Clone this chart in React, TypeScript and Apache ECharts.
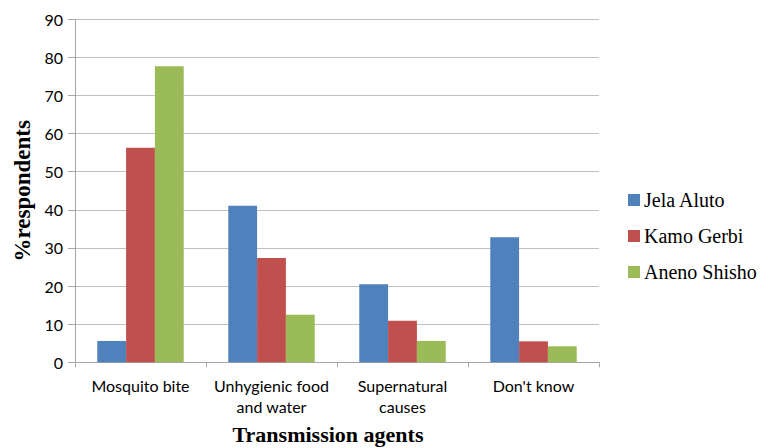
import React, { useEffect, useRef } from "react";
import * as echarts from "echarts";

const categories = ["Mosquito bite", "Unhygienic food\nand water", "Supernatural\ncauses", "Don't know"];
const seriesNames = ["Jela Aluto", "Kamo Gerbi", "Aneno Shisho"];
const jelaAluto = [5.6, 41.1, 20.5, 32.8];
const kamoGerbi = [56.3, 27.4, 10.9, 5.5];
const anenoShisho = [77.7, 12.5, 5.6, 4.2];
const colors = ["#4F81BD", "#C0504D", "#9BBB59"];
const yMin = 0;
const yMax = 90;
const yInterval = 10;

export default function App() {
  const ref = useRef<HTMLDivElement>(null);
  useEffect(() => {
    document.body.style.margin = "0";
    if (!ref.current) return;
    const chart = echarts.init(ref.current, undefined, { renderer: "svg" });
    const values = [jelaAluto, kamoGerbi, anenoShisho];
    chart.setOption({
      animation: false,
      backgroundColor: "#ffffff",
      grid: { left: 75, right: 171, top: 19.3, bottom: 85.7, outerBoundsMode: "none", containLabel: false },
      legend: {
        orient: "vertical",
        left: 628,
        top: 189,
        padding: 0,
        icon: "rect",
        itemWidth: 12,
        itemHeight: 12,
        itemGap: 14,
        data: seriesNames,
        textStyle: {
          fontFamily: "Liberation Serif",
          fontSize: 20,
          lineHeight: 22,
          color: "#000",
          padding: [0, 0, 0, -1],
        },
      },
      xAxis: {
        type: "category",
        data: categories,
        boundaryGap: true,
        name: "Transmission agents",
        nameLocation: "middle",
        nameGap: 61,
        nameTextStyle: {
          fontFamily: "Liberation Serif",
          fontWeight: "bold",
          fontSize: 22,
          lineHeight: 22,
          color: "#000",
          padding: [0, 18, 0, 0],
        },
        axisLine: { show: true, lineStyle: { color: "#a6a6a6", width: 1 } },
        axisTick: { show: true, length: 5, alignWithLabel: false, lineStyle: { color: "#a6a6a6" } },
        axisLabel: {
          fontFamily: "Lato",
          fontSize: 16,
          lineHeight: 21,
          color: "#000",
          margin: 13,
          interval: 0,
        },
        splitLine: { show: false },
      },
      yAxis: {
        type: "value",
        min: yMin,
        max: yMax,
        interval: yInterval,
        name: "%respondents",
        nameLocation: "middle",
        nameRotate: 90,
        nameGap: 40,
        nameTextStyle: {
          fontFamily: "Liberation Serif",
          fontWeight: "bold",
          fontSize: 23,
          color: "#000",
        },
        axisLine: { show: true, lineStyle: { color: "#a6a6a6", width: 1 } },
        axisTick: { show: true, length: 7, lineStyle: { color: "#a6a6a6" } },
        axisLabel: {
          fontFamily: "Lato",
          fontSize: 16,
          color: "#000",
          margin: 12,
        },
        splitLine: { show: true, lineStyle: { color: "#c0c0c0", width: 1 } },
      },
      series: seriesNames.map((name, i) => ({
        name,
        type: "bar",
        data: values[i],
        barGap: "0%",
        barCategoryGap: "34%",
        itemStyle: { color: colors[i] },
      })),
    });
    return () => chart.dispose();
  }, []);
  return <div ref={ref} style={{ width: 770, height: 448 }} />;
}
